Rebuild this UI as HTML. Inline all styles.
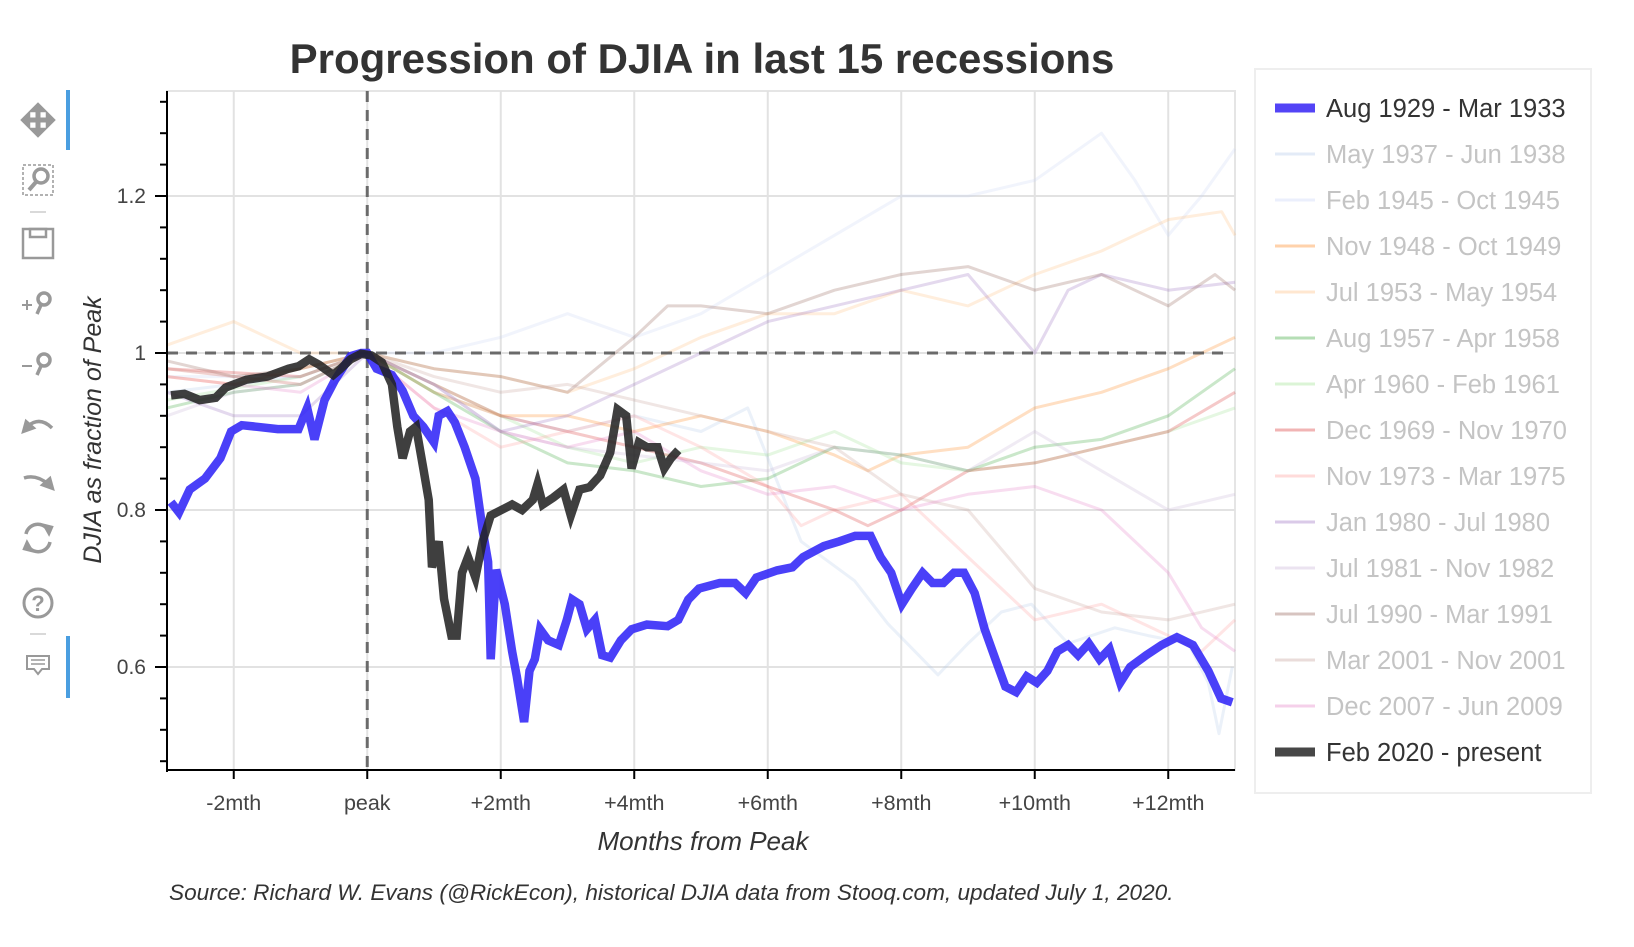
<!DOCTYPE html>
<html><head><meta charset="utf-8"><style>
body{margin:0;background:#fff;width:1634px;height:942px;overflow:hidden;font-family:"Liberation Sans",sans-serif}
svg text{font-family:"Liberation Sans",sans-serif}
</style></head><body>
<svg id="chart" width="1634" height="942" viewBox="0 0 1634 942">
<text x="702" y="73" text-anchor="middle" font-size="42" font-weight="bold" fill="#333">Progression of DJIA in last 15 recessions</text>
<g id="toolbar" fill="none" stroke="#999" stroke-width="2.5">
 <rect x="66" y="90" width="4" height="60" fill="#4a9ee0" stroke="none"/>
 <rect x="66" y="636" width="4" height="62" fill="#4a9ee0" stroke="none"/>
 <g><path d="M24 120h28M38 106v28" stroke-width="5"/><path d="M22 120l7-7v14zM54 120l-7-7v14zM38 104l-7 7h14zM38 136l-7-7h14z" fill="#999"/></g>
 <g><rect x="23" y="165" width="30" height="30" stroke-dasharray="3,2" stroke-width="1.5"/><circle cx="41" cy="176" r="7" stroke-width="3.5"/><path d="M36 182l-7 8" stroke-width="4"/></g>
 <line x1="30" y1="212" x2="46" y2="212" stroke="#ccc" stroke-width="1.5"/>
 <g><rect x="23" y="229" width="30" height="29"/><rect x="30" y="229" width="16" height="8"/></g>
 <g><path d="M22 305h10M27 300v10" stroke-width="2"/><circle cx="44" cy="299" r="6" stroke-width="3.5"/><path d="M41 305l-4 9" stroke-width="3.5"/></g>
 <g><path d="M22 366h10" stroke-width="2"/><circle cx="44" cy="360" r="6" stroke-width="3.5"/><path d="M41 366l-4 9" stroke-width="3.5"/></g>
 <g><path d="M52 428q-12-12-24 -2" stroke-width="3.5"/><path d="M23 432l3-11 8 7z" fill="#999"/></g>
 <g><path d="M24 478q12 -4 24 6" stroke-width="3.5"/><path d="M53 489l-3-11-8 7z" fill="#999"/></g>
 <g><path d="M26 534a12 12 0 0 1 22 -4M50 542a12 12 0 0 1 -22 4" stroke-width="3.5"/><path d="M44 525l8 2-3 7z M32 551l-8-2 3-7z" fill="#999"/></g>
 <g><circle cx="38" cy="603" r="14" stroke-width="3"/><text x="38" y="611" text-anchor="middle" font-size="22" font-weight="bold" fill="#999" stroke="none">?</text></g>
 <line x1="30" y1="634" x2="46" y2="634" stroke="#ccc" stroke-width="1.5"/>
 <g><path d="M27 656h22v13h-7l-4 5-4-5h-7z" stroke-width="2"/><path d="M31 660h14M31 664h14" stroke-width="1.5"/></g>
</g>
<g id="grid"></g>
<g id="series"></g>
<g id="axes"></g>
<text transform="translate(101,430) rotate(-90)" text-anchor="middle" font-size="25" font-style="italic" fill="#333">DJIA as fraction of Peak</text>
<text x="703" y="850" text-anchor="middle" font-size="26" font-style="italic" fill="#333">Months from Peak</text>
<text x="169" y="900" font-size="22.6" font-style="italic" fill="#333">Source: Richard W. Evans (@RickEcon), historical DJIA data from Stooq.com, updated July 1, 2020.</text>
<g id="legend"><rect x="1255" y="69" width="336" height="724" fill="#fff" stroke="#eee" stroke-width="2"/></g>
</svg>
<script>
const labels=["Aug 1929 - Mar 1933","May 1937 - Jun 1938","Feb 1945 - Oct 1945","Nov 1948 - Oct 1949","Jul 1953 - May 1954","Aug 1957 - Apr 1958","Apr 1960 - Feb 1961","Dec 1969 - Nov 1970","Nov 1973 - Mar 1975","Jan 1980 - Jul 1980","Jul 1981 - Nov 1982","Jul 1990 - Mar 1991","Mar 2001 - Nov 2001","Dec 2007 - Jun 2009","Feb 2020 - present"];
const xTicks=[-2,0,2,4,6,8,10,12];
const xTickLabels=["-2mth","peak","+2mth","+4mth","+6mth","+8mth","+10mth","+12mth"];
const yTicks=[0.6,0.8,1.0,1.2];
const yTickLabels=["0.6","0.8","1","1.2"];
const m1929=[-2.94,-2.82,-2.66,-2.43,-2.2,-2.04,-1.88,-1.65,-1.34,-1.03,-0.9,-0.79,-0.64,-0.48,-0.25,-0.09,0,0.14,0.37,0.53,0.69,0.84,1.0,1.07,1.2,1.31,1.46,1.62,1.73,1.81,1.85,1.93,2.06,2.17,2.24,2.35,2.43,2.51,2.59,2.71,2.87,2.99,3.07,3.18,3.29,3.41,3.52,3.64,3.8,3.96,4.19,4.5,4.66,4.81,4.97,5.28,5.51,5.67,5.83,6.14,6.37,6.53,6.84,7.07,7.31,7.54,7.69,7.85,8.01,8.16,8.32,8.47,8.63,8.79,8.94,9.1,9.25,9.41,9.56,9.72,9.88,10.03,10.19,10.34,10.5,10.65,10.81,10.97,11.12,11.28,11.43,11.67,11.9,12.13,12.37,12.6,12.79,12.96];
const v1929=[0.81,0.797,0.826,0.84,0.866,0.9,0.908,0.906,0.903,0.903,0.93,0.89,0.94,0.966,0.996,1.0,1.0,0.98,0.972,0.952,0.92,0.906,0.886,0.92,0.926,0.912,0.88,0.84,0.774,0.734,0.61,0.724,0.68,0.62,0.588,0.53,0.595,0.61,0.648,0.634,0.628,0.66,0.686,0.68,0.648,0.66,0.615,0.612,0.634,0.648,0.654,0.652,0.66,0.686,0.7,0.707,0.707,0.694,0.714,0.723,0.727,0.74,0.754,0.76,0.767,0.767,0.74,0.72,0.68,0.7,0.72,0.707,0.707,0.72,0.72,0.694,0.648,0.61,0.575,0.568,0.588,0.58,0.595,0.62,0.628,0.615,0.63,0.61,0.623,0.58,0.6,0.615,0.628,0.638,0.628,0.595,0.56,0.555];
const m2020=[-2.94,-2.74,-2.51,-2.27,-2.12,-1.81,-1.5,-1.18,-1.03,-0.87,-0.72,-0.51,-0.4,-0.25,-0.09,0.06,0.22,0.37,0.45,0.53,0.64,0.73,0.84,0.92,0.97,1.07,1.15,1.26,1.34,1.42,1.51,1.62,1.73,1.85,2.01,2.17,2.32,2.48,2.55,2.63,2.79,2.94,3.05,3.18,3.33,3.49,3.64,3.75,3.88,3.96,4.07,4.19,4.35,4.45,4.55,4.66];
const v2020=[0.946,0.948,0.94,0.943,0.956,0.966,0.97,0.98,0.983,0.992,0.985,0.972,0.98,0.992,0.999,0.997,0.988,0.96,0.906,0.866,0.9,0.906,0.853,0.813,0.727,0.76,0.687,0.64,0.64,0.72,0.74,0.714,0.76,0.793,0.8,0.807,0.8,0.813,0.833,0.807,0.816,0.826,0.793,0.826,0.829,0.844,0.873,0.928,0.92,0.853,0.886,0.88,0.88,0.853,0.866,0.876];
const m1937=[-3,-2,-1,0,1,2,3,4,5,5.7,6.5,7.3,7.8,8.55,9,9.5,9.95,10.5,11.2,11.7,12.3,12.6,12.76,12.96];
const v1937=[0.95,0.96,0.97,1.0,0.95,0.92,0.9,0.92,0.9,0.93,0.76,0.71,0.655,0.59,0.63,0.67,0.68,0.63,0.65,0.64,0.63,0.58,0.515,0.6];
const m1945=[-3,-1,0,1,2,3,4,5,6,7,8,9,10,10.5,11,11.5,12,12.5,13];
const v1945=[0.97,0.97,1,1.0,1.02,1.05,1.02,1.05,1.1,1.15,1.2,1.2,1.22,1.25,1.28,1.22,1.15,1.2,1.26];
const m1948=[-3,-2,-1,0,1,2,3,4,5,6,7,7.5,8,9,10,11,12,13];
const v1948=[0.97,0.96,0.98,1,0.95,0.92,0.92,0.9,0.92,0.9,0.87,0.85,0.87,0.88,0.93,0.95,0.98,1.02];
const m1953=[-3,-2,-1,0,1,2,3,4,5,6,7,8,9,10,11,12,12.8,13];
const v1953=[1.01,1.04,1.0,1.0,0.98,0.97,0.95,0.98,1.02,1.05,1.05,1.08,1.06,1.1,1.13,1.17,1.18,1.15];
const m1957=[-3,-2,-1,0,1,2,3,4,5,6,7,8,9,10,11,12,13];
const v1957=[0.93,0.95,0.96,1,0.95,0.9,0.86,0.85,0.83,0.84,0.88,0.87,0.85,0.88,0.89,0.92,0.98];
const m1960=[-3,-1,0,1,2,3,4,5,6,7,8,9,10,11,12,13];
const v1960=[0.94,0.97,1,0.96,0.92,0.88,0.86,0.88,0.87,0.9,0.86,0.85,0.86,0.88,0.9,0.93];
const m1969=[-3,-1,0,1,2,3,4,5,6,7,7.5,8,9,10,11,12,13];
const v1969=[0.98,0.97,1,0.96,0.92,0.9,0.88,0.86,0.83,0.8,0.78,0.8,0.85,0.86,0.88,0.9,0.95];
const m1973=[-3,-1,0,1,2,3,4,5,6,6.5,7,8,9,9.5,10,11,12,12.5,13];
const v1973=[0.98,0.96,1,0.93,0.88,0.9,0.92,0.88,0.83,0.78,0.8,0.82,0.74,0.7,0.66,0.68,0.64,0.62,0.66];
const m1980=[-3,-2,-1,0,1,2,3,4,5,6,7,8,9,10,10.5,11,12,13];
const v1980=[0.95,0.92,0.92,1,0.96,0.9,0.92,0.96,1.0,1.04,1.06,1.08,1.1,1.0,1.08,1.1,1.08,1.09];
const m1981=[-3,-2,-1,0,1,2,3,4,5,6,7,8,9,10,11,12,13];
const v1981=[0.92,0.95,0.96,1,0.96,0.9,0.88,0.87,0.86,0.85,0.88,0.87,0.85,0.9,0.85,0.8,0.82];
const m1990=[-3,-2,-1,0,1,2,3,4,4.5,5,6,7,8,9,10,11,12,12.7,13];
const v1990=[0.99,0.97,0.98,1,0.98,0.97,0.95,1.02,1.06,1.06,1.05,1.08,1.1,1.11,1.08,1.1,1.06,1.1,1.08];
const m2001=[-3,-1,0,1,2,3,4,5,6,7,8,9,10,11,12,13];
const v2001=[0.98,0.96,1,0.97,0.95,0.96,0.94,0.92,0.9,0.88,0.82,0.8,0.7,0.67,0.66,0.68];
const m2007=[-3,-1,0,1,2,3,4,5,6,7,8,9,10,11,11.5,12,12.5,13];
const v2007=[0.97,0.95,1,0.93,0.9,0.88,0.9,0.85,0.82,0.83,0.8,0.82,0.83,0.8,0.76,0.72,0.65,0.62];

const NS="http://www.w3.org/2000/svg";
const X0=167,X1=1235,Y0=91,Y1=770;
function xs(m){return X0+(m+3)/16*(X1-X0);}
function ys(v){return 353-(v-1)*785;}
function mk(tag,attrs,parent){const e=document.createElementNS(NS,tag);for(const k in attrs)e.setAttribute(k,attrs[k]);parent.appendChild(e);return e;}
const grid=document.getElementById('grid'),axes=document.getElementById('axes'),ser=document.getElementById('series'),leg=document.getElementById('legend');
mk('rect',{x:X0,y:Y0,width:X1-X0,height:Y1-Y0,fill:'none',stroke:'#e5e5e5','stroke-width':2},grid);
xTicks.forEach((t,i)=>{
 const g=mk('line',{x1:xs(t),x2:xs(t),y1:Y0,y2:Y1,stroke:'#e2e2e2','stroke-width':2},grid);
 
 
 const tk=mk('line',{x1:xs(t),x2:xs(t),y1:Y1,y2:Y1+9,stroke:'#000','stroke-width':2},axes);
 
 
 const tl=mk('text',{x:xs(t),y:810,'text-anchor':'middle','font-size':21.5,fill:'#444'},axes);
 tl.textContent=xTickLabels[i];
 
 
});
yTicks.forEach((t,i)=>{
 const g=mk('line',{x1:X0,x2:X1,y1:ys(t),y2:ys(t),stroke:'#e2e2e2','stroke-width':2},grid);
 
 
 const tl=mk('text',{x:146,y:ys(t)+7,'text-anchor':'end','font-size':21,fill:'#444'},axes);
 tl.textContent=yTickLabels[i];
 
 
});
for(let v=0.48;v<1.34;v+=0.04){
 const major=yTicks.some(t=>Math.abs(t-v)<0.001);
 const tk=mk('line',{x1:major?X0-12:X0-7,x2:X0,y1:ys(v),y2:ys(v),stroke:'#000','stroke-width':2},axes);
 
 
}
mk('line',{x1:X0,x2:X0,y1:Y0,y2:Y1+2,stroke:'#000','stroke-width':2},axes);
mk('line',{x1:X0-1,x2:X1,y1:Y1,y2:Y1,stroke:'#000','stroke-width':2},axes);

const faint=[[m1937,v1937,'#aec7e8',labels[1]],[m1945,v1945,'#c6d2f5',labels[2]],[m1948,v1948,'#ff7f0e',labels[3]],[m1953,v1953,'#ffbb78',labels[4]],[m1957,v1957,'#2ca02c',labels[5]],[m1960,v1960,'#98df8a',labels[6]],[m1969,v1969,'#d62728',labels[7]],[m1973,v1973,'#ff9896',labels[8]],[m1980,v1980,'#9467bd',labels[9]],[m1981,v1981,'#c5b0d5',labels[10]],[m1990,v1990,'#8c564b',labels[11]],[m2001,v2001,'#c49c94',labels[12]],[m2007,v2007,'#e377c2',labels[13]]];
function pts(m,v){return m.map((x,i)=>xs(x).toFixed(1)+','+ys(v[i]).toFixed(1)).join(' ');}
faint.forEach(f=>{
 const p=mk('polyline',{points:pts(f[0],f[1]),fill:'none',stroke:f[2],'stroke-opacity':0.25,'stroke-width':3,'stroke-linejoin':'round'},ser);
 
 
});
mk('line',{x1:X0,x2:1226,y1:ys(1),y2:ys(1),stroke:'#555','stroke-width':3,'stroke-dasharray':'11,8','stroke-opacity':0.85},ser);
mk('line',{x1:xs(0),x2:xs(0),y1:Y0,y2:Y1,stroke:'#555','stroke-width':3,'stroke-dasharray':'11,8','stroke-opacity':0.85},ser);
const pb=mk('polyline',{points:pts(m1929,v1929),fill:'none',stroke:'#2a1ef7','stroke-opacity':0.85,'stroke-width':8.5,'stroke-linejoin':'miter'},ser);


const pk=mk('polyline',{points:pts(m2020,v2020),fill:'none',stroke:'#222','stroke-opacity':0.87,'stroke-width':8.5,'stroke-linejoin':'miter'},ser);



const legColors=['#4030f5'].concat(faint.map(f=>f[2])).concat(['#333']);
labels.forEach((l,i)=>{
 const y=108+i*46;
 const main=(i===0||i===14);
 const sw=mk('line',{x1:1275,x2:1315,y1:y,y2:y,stroke:legColors[i],'stroke-width':main?9:3,'stroke-opacity':main?0.9:0.35},leg);
 
 
 const t=mk('text',{x:1326,y:y+9,'font-size':25.5,fill:main?'#333':'#c4c4c4'},leg);
 t.textContent=l;
 
 
});
</script>
</body></html>
